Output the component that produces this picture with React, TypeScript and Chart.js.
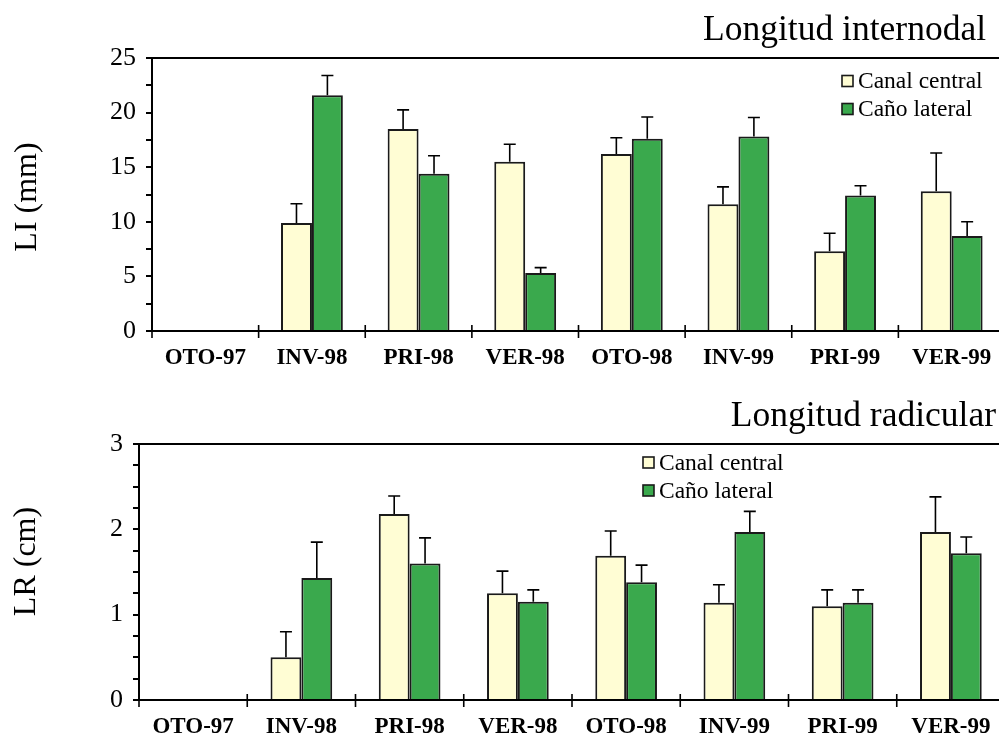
import React, { useEffect, useRef } from 'react';
import { Chart, registerables } from 'chart.js';

Chart.register(...registerables);

const SERIF = "'Liberation Serif', 'Times New Roman', Times, serif";

// ---- data ----
const categories = ['OTO-97', 'INV-98', 'PRI-98', 'VER-98', 'OTO-98', 'INV-99', 'PRI-99', 'VER-99'];
const seriesNames = ['Canal central', 'Caño lateral'];

const liCanal = [null, 9.9, 18.5, 15.5, 16.2, 11.6, 7.3, 12.8];
const liCanalErr = [null, 1.75, 1.75, 1.6, 1.5, 1.6, 1.65, 3.5];
const liCano = [null, 21.6, 14.4, 5.3, 17.6, 17.8, 12.4, 8.7];
const liCanoErr = [null, 1.8, 1.65, 0.5, 2.0, 1.75, 0.9, 1.3];

const lrCanal = [null, 0.5, 2.18, 1.25, 1.69, 1.14, 1.1, 1.97];
const lrCanalErr = [null, 0.3, 0.21, 0.26, 0.29, 0.21, 0.19, 0.41];
const lrCano = [null, 1.43, 1.6, 1.15, 1.38, 1.97, 1.14, 1.72];
const lrCanoErr = [null, 0.42, 0.3, 0.14, 0.2, 0.24, 0.15, 0.19];

const liTicks = [0, 2.5, 5, 7.5, 10, 12.5, 15, 17.5, 20, 22.5, 25];
const liTickLabels = ['0', '', '5', '', '10', '', '15', '', '20', '', '25'];
const lrTicks = [0, 0.25, 0.5, 0.75, 1, 1.25, 1.5, 1.75, 2, 2.25, 2.5, 2.75, 3];
const lrTickLabels = ['0', '', '', '', '1', '', '', '', '2', '', '', '', '3'];

const topTitle = 'Longitud internodal';
const bottomTitle = 'Longitud radicular';
const topAxisTitle = 'LI (mm)';
const bottomAxisTitle = 'LR (cm)';

// ---- styles ----
const canalColor = '#FFFDD4';
const canoColor = '#3AA94D';
const edgeColor = '#1a1a1a';

const decorPlugin = {
  id: 'panelDecor',
  afterDatasetsDraw(chart: any, _args: any, opts: any) {
    const ctx = chart.ctx;
    const y = chart.scales.y;
    ctx.save();
    ctx.strokeStyle = '#000';
    ctx.lineWidth = 1.6;
    chart.data.datasets.forEach((ds: any, d: number) => {
      const meta = chart.getDatasetMeta(d);
      const errs = opts.errors[d];
      meta.data.forEach((el: any, i: number) => {
        const v = ds.data[i];
        if (v == null || errs[i] == null) return;
        const ye = y.getPixelForValue(v + errs[i]);
        ctx.beginPath();
        ctx.moveTo(el.x, el.y);
        ctx.lineTo(el.x, ye);
        ctx.moveTo(el.x - 6, ye);
        ctx.lineTo(el.x + 6, ye);
        ctx.stroke();
      });
    });
    ctx.restore();
  },
  afterDraw(chart: any, _args: any, opts: any) {
    const ctx = chart.ctx;
    const { left, right, top, bottom } = chart.chartArea;
    ctx.save();
    // top frame line
    ctx.strokeStyle = '#000';
    ctx.lineWidth = 2;
    ctx.beginPath();
    ctx.moveTo(left, top);
    ctx.lineTo(chart.width, top);
    ctx.stroke();
    // category separator ticks crossing the axis
    const n = chart.data.labels.length;
    ctx.lineWidth = 1.6;
    ctx.beginPath();
    for (let i = 0; i <= n; i++) {
      const x = left + (i * (right - left)) / n;
      ctx.moveTo(x, bottom - 6);
      ctx.lineTo(x, bottom + 7);
    }
    ctx.stroke();
    // panel title
    ctx.fillStyle = '#000';
    ctx.font = `35.5px ${SERIF}`;
    ctx.textAlign = 'right';
    ctx.textBaseline = 'alphabetic';
    ctx.fillText(opts.title, opts.titleX, opts.titleY);
    // axis title
    ctx.save();
    ctx.translate(opts.axisTitleX, opts.axisTitleY);
    ctx.rotate(-Math.PI / 2);
    ctx.font = `32px ${SERIF}`;
    ctx.textAlign = 'center';
    ctx.textBaseline = 'middle';
    ctx.fillText(opts.axisTitle, 0, 0);
    ctx.restore();
    // legend
    ctx.font = `23.5px ${SERIF}`;
    ctx.textAlign = 'left';
    ctx.textBaseline = 'middle';
    chart.data.datasets.forEach((ds: any, d: number) => {
      const cy = opts.legendY + d * 28;
      ctx.fillStyle = ds.backgroundColor;
      ctx.fillRect(opts.legendX, cy - 5.5, 11, 11);
      ctx.strokeStyle = edgeColor;
      ctx.lineWidth = 1.6;
      ctx.strokeRect(opts.legendX, cy - 5.5, 11, 11);
      ctx.fillStyle = '#000';
      ctx.fillText(ds.label, opts.legendX + 16, cy + 1);
    });
    ctx.restore();
  },
};

type PanelProps = {
  canal: (number | null)[];
  cano: (number | null)[];
  canalErr: (number | null)[];
  canoErr: (number | null)[];
  ticks: number[];
  tickLabels: string[];
  height: number;
  padTop: number;
  yAxisWidth: number;
  xAxisHeight: number;
  catPct: number;
  title: string;
  titleX: number;
  titleY: number;
  axisTitle: string;
  axisTitleX: number;
  axisTitleY: number;
  legendX: number;
  legendY: number;
};

function Panel(p: PanelProps) {
  const ref = useRef<HTMLCanvasElement>(null);
  useEffect(() => {
    if (!ref.current) return;
    const chart = new Chart(ref.current, {
      type: 'bar',
      data: {
        labels: categories,
        datasets: [
          {
            label: seriesNames[0],
            data: p.canal as any,
            backgroundColor: canalColor,
            borderColor: edgeColor,
            borderWidth: 2,
          },
          {
            label: seriesNames[1],
            data: p.cano as any,
            backgroundColor: canoColor,
            borderColor: edgeColor,
            borderWidth: 2,
          },
        ],
      },
      options: {
        responsive: false,
        animation: false,
        devicePixelRatio: 1,
        layout: { padding: { top: p.padTop, right: 1, left: 0, bottom: 0 } },
        datasets: { bar: { categoryPercentage: p.catPct, barPercentage: 1 } },
        plugins: {
          legend: { display: false },
          title: { display: false },
          tooltip: { enabled: false },
          panelDecor: {
            errors: [p.canalErr, p.canoErr],
            title: p.title,
            titleX: p.titleX,
            titleY: p.titleY,
            axisTitle: p.axisTitle,
            axisTitleX: p.axisTitleX,
            axisTitleY: p.axisTitleY,
            legendX: p.legendX,
            legendY: p.legendY,
          },
        } as any,
        scales: {
          x: {
            type: 'category',
            grid: { display: false, drawTicks: false },
            border: { display: true, color: '#000', width: 2 },
            ticks: {
              color: '#000',
              font: { family: SERIF, size: 23, weight: 'bold' },
              padding: 13,
              maxRotation: 0,
              autoSkip: false,
            },
            afterFit: (s: any) => {
              s.height = p.xAxisHeight;
            },
          },
          y: {
            min: p.ticks[0],
            max: p.ticks[p.ticks.length - 1],
            afterBuildTicks: (s: any) => {
              s.ticks = p.ticks.map((v) => ({ value: v }));
            },
            ticks: {
              autoSkip: false,
              color: '#000',
              font: { family: SERIF, size: 26 },
              padding: 10,
              callback: (_v: any, i: number) => p.tickLabels[i],
            },
            grid: { drawOnChartArea: false, tickLength: 6, color: '#000', lineWidth: 2 },
            border: { display: true, color: '#000', width: 2 },
            afterFit: (s: any) => {
              s.width = p.yAxisWidth;
            },
          } as any,
        },
      },
      plugins: [decorPlugin as any],
    });
    return () => chart.destroy();
  }, []);
  return (
    <canvas
      ref={ref}
      width={1006}
      height={p.height}
      style={{ display: 'block', width: 1006, height: p.height }}
    />
  );
}

export default function App() {
  return (
    <div
      style={{
        position: 'fixed',
        left: 0,
        top: 0,
        width: 999,
        height: 736,
        overflow: 'hidden',
        background: '#fff',
      }}
    >
      <Panel
        canal={liCanal}
        cano={liCano}
        canalErr={liCanalErr}
        canoErr={liCanoErr}
        ticks={liTicks}
        tickLabels={liTickLabels}
        height={370}
        padTop={58}
        yAxisWidth={152}
        xAxisHeight={39}
        catPct={0.58}
        title={topTitle}
        titleX={986}
        titleY={40}
        axisTitle={topAxisTitle}
        axisTitleX={27.5}
        axisTitleY={197}
        legendX={842}
        legendY={81}
      />
      <Panel
        canal={lrCanal}
        cano={lrCano}
        canalErr={lrCanalErr}
        canoErr={lrCanoErr}
        ticks={lrTicks}
        tickLabels={lrTickLabels}
        height={366}
        padTop={74}
        yAxisWidth={139}
        xAxisHeight={36}
        catPct={0.57}
        title={bottomTitle}
        titleX={996}
        titleY={56}
        axisTitle={bottomAxisTitle}
        axisTitleX={27}
        axisTitleY={191.5}
        legendX={643}
        legendY={92.5}
      />
    </div>
  );
}
